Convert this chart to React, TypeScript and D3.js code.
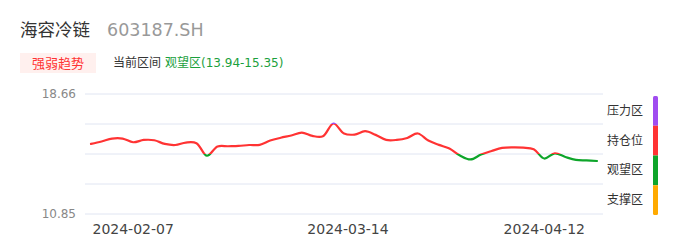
import React from "react";
import * as d3 from "d3";

const dates: string[] = [
  "2024-02-01","2024-02-02","2024-02-05","2024-02-06","2024-02-07","2024-02-08",
  "2024-02-19","2024-02-20","2024-02-21","2024-02-22","2024-02-23","2024-02-26",
  "2024-02-27","2024-02-28","2024-02-29","2024-03-01","2024-03-04","2024-03-05",
  "2024-03-06","2024-03-07","2024-03-08","2024-03-11","2024-03-12","2024-03-13",
  "2024-03-14","2024-03-15","2024-03-18","2024-03-19","2024-03-20","2024-03-21",
  "2024-03-22","2024-03-25","2024-03-26","2024-03-27","2024-03-28","2024-03-29",
  "2024-04-01","2024-04-02","2024-04-03","2024-04-08","2024-04-09","2024-04-10",
  "2024-04-11","2024-04-12","2024-04-15","2024-04-16","2024-04-17","2024-04-18",
  "2024-04-19",
];

const values: number[] = [
  15.41, 15.57, 15.76, 15.76, 15.52, 15.67, 15.65, 15.41, 15.34, 15.5,
  15.46, 14.64, 15.24, 15.26, 15.28, 15.34, 15.35, 15.63, 15.81, 15.96,
  16.15, 15.93, 15.91, 16.74, 16.09, 16.02, 16.24, 16.0, 15.67, 15.67,
  15.8, 16.09, 15.63, 15.35, 15.11, 14.66, 14.4, 14.72, 14.95, 15.15,
  15.19, 15.17, 15.06, 14.46, 14.8, 14.56, 14.37, 14.34, 14.3,
];

const xTickLabels: string[] = ["2024-02-07", "2024-03-14", "2024-04-12"];
const yMin = 10.85;
const yMax = 18.66;
const yLabels: number[] = [18.66, 10.85];

const zoneNames: string[] = ["压力区", "持仓位", "观望区", "支撑区"];
const zoneColors: string[] = ["#a04cf0", "#ff3333", "#0ea52a", "#ffaa00"];

const stockName = "海容冷链";
const stockCode = "603187.SH";
const badgeText = "强弱趋势";
const rangeLabel = "当前区间";
const rangeValue = "观望区(13.94-15.35)";

const FONT = "'DejaVu Sans', 'Noto Sans CJK SC', sans-serif";

export default function App() {
  const left = 85;
  const right = 603;
  const top = 94;
  const bottom = 214;

  const x = d3.scalePoint<string>().domain(dates).range([91, 597]);
  const y = d3.scaleLinear().domain([yMin, yMax]).range([bottom, top]);

  const gridVals = d3.range(5).map((i) => yMin + ((yMax - yMin) * i) / 4);
  const t1 = gridVals[3];
  const t2 = gridVals[2];
  const t3 = gridVals[1];

  const line = d3
    .line<number>()
    .x((_, i) => x(dates[i]) as number)
    .y((d) => y(d))
    .curve(d3.curveCatmullRom.alpha(0.5));

  const pathD = line(values) || "";

  const off = (v: number) => `${((v - top) / (bottom - top)) * 100}%`;

  const legendTop = 96;
  const segH = 29.75;

  return (
    <svg
      width={686}
      height={247}
      style={{ position: "absolute", left: 0, top: 0, background: "#fff" }}
      fontFamily={FONT}
    >
      <defs>
        <linearGradient id="zoneGrad" gradientUnits="userSpaceOnUse" x1={0} y1={top} x2={0} y2={bottom}>
          <stop offset="0%" stopColor={zoneColors[0]} />
          <stop offset={off(y(t1))} stopColor={zoneColors[0]} />
          <stop offset={off(y(t1))} stopColor={zoneColors[1]} />
          <stop offset={off(y(t2))} stopColor={zoneColors[1]} />
          <stop offset={off(y(t2))} stopColor={zoneColors[2]} />
          <stop offset={off(y(t3))} stopColor={zoneColors[2]} />
          <stop offset={off(y(t3))} stopColor={zoneColors[3]} />
          <stop offset="100%" stopColor={zoneColors[3]} />
        </linearGradient>
        <clipPath id="legendClip">
          <rect x={653} y={legendTop} width={5} height={segH * 4} rx={1.5} ry={1.5} />
        </clipPath>
      </defs>

      <text x={20} y={36} fontSize={17.5} fill="#333">{stockName}</text>
      <text x={107} y={36} fontSize={17.5} fill="#999">{stockCode}</text>

      <rect x={20} y={53} width={76} height={20} fill="#fff0ee" />
      <text x={58} y={63} fontSize={13} fill="#f33" textAnchor="middle" dominantBaseline="central">
        {badgeText}
      </text>
      <text x={113} y={63} fontSize={12} fill="#333" dominantBaseline="central">{rangeLabel}</text>
      <text x={165} y={63} fontSize={12} fill="#1aa03c" dominantBaseline="central">{rangeValue}</text>

      {gridVals.map((v, i) => (
        <line key={i} x1={left} x2={right} y1={y(v)} y2={y(v)} stroke="#e0e5f2" strokeWidth={1} />
      ))}
      {yLabels.map((v, i) => (
        <text key={i} x={76} y={y(v)} fontSize={12} fill="#888" textAnchor="end" dominantBaseline="central">
          {v.toFixed(2)}
        </text>
      ))}
      {xTickLabels.map((d, i) => (
        <text key={i} x={(x(d) as number) + (i === 1 ? 4 : 0)} y={228.5} fontSize={14} fill="#444" textAnchor="middle" dominantBaseline="central">
          {d}
        </text>
      ))}

      <path d={pathD} fill="none" stroke="url(#zoneGrad)" strokeWidth={2.2} strokeLinejoin="round" strokeLinecap="round" />

      <g clipPath="url(#legendClip)">
        {zoneNames.map((n, i) => (
          <rect key={n} x={653} y={legendTop + i * segH} width={5} height={segH} fill={zoneColors[i]} />
        ))}
      </g>
      {zoneNames.map((n, i) => (
        <text key={n} x={607} y={legendTop + i * segH + segH / 2} fontSize={12} fill="#333" dominantBaseline="central">
          {n}
        </text>
      ))}
    </svg>
  );
}
